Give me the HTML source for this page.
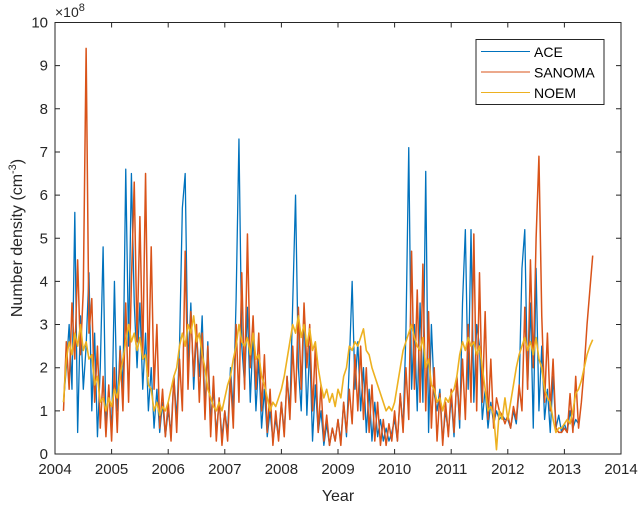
<!DOCTYPE html>
<html><head><meta charset="utf-8"><style>
html,body{margin:0;padding:0;background:#fff;}
svg{display:block;font-family:"Liberation Sans",sans-serif;}
</style></head><body>
<svg id="chart" width="640" height="505" viewBox="0 0 640 505" xmlns="http://www.w3.org/2000/svg">
<rect x="0" y="0" width="640" height="505" fill="#fff"/>
<g id="series"></g>
<rect x="55" y="22.5" width="566" height="431.5" fill="none" stroke="#262626" stroke-width="1"/>
<g id="axes" font-size="15" fill="#262626"></g>
<text x="55" y="17" font-size="14" fill="#262626">×10<tspan font-size="11" dy="-6">8</tspan></text>
<text x="338" y="501" font-size="16" fill="#262626" text-anchor="middle">Year</text>
<text transform="translate(22,238) rotate(-90)" font-size="16" fill="#262626" text-anchor="middle">Number density (cm<tspan font-size="11" dy="-6">-3</tspan><tspan dy="6">)</tspan></text>
<g>
<rect x="476" y="39.5" width="128" height="65" fill="#fff" stroke="#262626" stroke-width="1"/>
<line x1="481" y1="51.5" x2="530" y2="51.5" stroke="#0072BD"/>
<text x="534" y="57" font-size="14" fill="#000">ACE</text>
<line x1="481" y1="72" x2="530" y2="72" stroke="#D95319"/>
<text x="534" y="77.5" font-size="14" fill="#000">SANOMA</text>
<line x1="481" y1="92.5" x2="530" y2="92.5" stroke="#EDB120"/>
<text x="534" y="98" font-size="14" fill="#000">NOEM</text>
</g>
</svg>
<script>
const xTicks = [2004,2005,2006,2007,2008,2009,2010,2011,2012,2013,2014];
const yTicks = [0,1,2,3,4,5,6,7,8,9,10];
const startYear = 2004.15;
const step = 0.05;
const aceValues = [1.2,2.0,3.0,1.5,5.6,0.5,3.2,1.5,2.5,4.2,1.0,2.8,0.4,2.0,4.8,0.6,1.5,
0.5,4.0,1.0,2.5,1.5,6.6,2.5,6.5,3.5,2.0,3.5,1.5,2.8,1.0,2.0,0.6,1.5,0.5,1.2,0.4,
1.0,0.5,1.8,0.8,2.5,5.7,6.5,2.0,3.5,1.5,2.8,1.8,3.2,1.0,2.6,0.8,1.5,0.5,1.2,0.4,
1.0,0.5,2.0,1.0,3.6,7.3,2.5,1.6,3.4,1.2,2.8,1.0,2.2,0.6,1.5,0.4,1.0,0.3,0.8,0.4,
1.2,0.5,1.8,1.0,3.5,6.0,2.0,1.0,3.3,0.9,2.5,0.3,1.6,0.5,1.0,0.2,0.7,0.2,0.6,0.3,
0.8,0.3,1.2,0.4,2.1,4.0,1.5,2.6,1.0,2.0,0.5,1.5,0.3,1.2,0.4,0.8,0.3,0.6,0.3,0.5,
0.8,0.3,1.4,0.6,2.8,7.1,1.5,3.0,1.0,3.5,1.2,6.55,0.5,3.0,1.4,1.0,1.5,0.3,1.0,0.5,
1.3,0.4,1.8,0.6,3.5,5.2,1.5,5.2,1.2,3.0,2.5,0.8,1.5,0.6,1.2,0.7,1.0,0.8,0.9,0.8,
0.8,0.6,1.0,0.7,1.5,4.3,5.2,1.5,3.5,0.6,4.3,1.0,2.5,0.8,1.5,0.5,1.8,0.6,0.9,0.5,
0.7,0.5,1.0,0.6,0.8,0.7];
const sanomaValues = [1.0,2.6,1.5,3.5,2.2,4.5,2.3,3.8,9.4,2.8,3.6,1.2,2.5,0.6,1.8,0.4,1.6,
0.3,2.0,0.5,2.4,1.0,3.5,1.2,4.0,6.3,2.6,5.5,2.2,6.5,1.8,4.8,1.5,3.0,0.6,1.5,0.4,
1.2,0.3,1.8,0.5,2.2,1.0,4.7,1.5,3.3,1.8,3.0,1.2,2.8,0.8,2.5,0.4,1.8,0.3,1.3,0.2,
1.0,0.3,1.8,0.6,3.0,1.2,4.2,1.5,5.1,2.0,3.2,1.5,2.8,1.0,2.3,0.5,1.5,0.2,1.0,0.3,
1.2,0.4,1.8,0.8,2.5,1.2,3.4,1.5,3.5,2.0,3.0,1.0,2.5,0.5,1.6,0.3,0.9,0.2,0.6,0.3,
0.8,0.2,1.2,0.5,1.5,0.7,2.3,1.0,2.5,0.8,2.0,0.5,1.6,0.3,1.2,0.2,0.8,0.2,0.7,0.3,
1.0,0.3,1.4,0.5,2.0,0.8,4.7,1.5,3.8,1.2,4.4,1.0,3.3,0.6,2.0,0.3,1.4,0.2,1.2,0.4,
1.5,0.5,1.8,0.8,2.2,0.8,3.0,1.2,5.1,1.0,4.2,1.2,3.3,0.8,2.2,0.6,1.3,1.0,0.9,0.7,
0.9,0.6,1.1,0.8,1.6,1.0,3.4,1.5,4.5,2.0,5.0,6.9,3.2,1.2,2.8,1.0,2.2,0.6,0.5,0.5,
0.6,0.5,1.4,0.5,1.8,0.6,1.2,2.0,3.0,3.8,4.6];
const noemValues = [1.2,2.2,2.6,2.3,2.8,2.5,3.0,2.4,2.6,2.2,2.3,1.6,1.8,1.2,1.3,1.0,1.3,
1.1,1.5,1.3,1.8,2.2,2.6,3.0,2.6,2.8,2.4,2.7,2.2,2.3,1.6,1.5,1.0,1.2,0.9,1.1,1.0,
1.2,1.5,1.8,2.0,2.5,2.8,2.5,3.0,2.8,3.2,2.6,2.8,2.3,2.0,1.5,1.3,1.1,1.0,1.2,1.0,
1.3,1.6,1.8,2.2,2.5,3.0,2.6,2.5,2.7,2.3,2.8,2.2,2.3,1.8,1.6,1.3,1.0,1.2,1.1,1.3,
1.5,1.8,2.2,2.6,3.0,2.8,3.2,2.7,3.0,2.5,2.9,2.4,2.6,2.0,1.6,1.3,1.5,1.2,1.4,1.1,
1.5,1.3,1.8,2.0,2.5,2.4,2.6,2.5,2.7,2.9,2.4,2.3,2.0,1.8,1.6,1.4,1.2,1.0,1.1,1.0,
1.2,1.6,2.0,2.4,2.6,2.8,3.0,2.7,2.5,2.4,2.7,2.0,2.2,1.6,1.5,1.2,1.3,1.0,1.3,1.2,
1.4,1.5,1.8,2.3,2.6,2.4,2.7,2.5,2.6,2.3,2.5,2.0,1.5,1.0,1.1,0.9,0.1,1.0,0.8,1.3,
0.8,1.2,1.6,2.0,2.3,2.5,2.7,2.4,2.6,2.3,2.7,2.2,2.0,1.5,1.3,1.2,0.8,0.5,0.6,0.6,
0.7,0.8,0.7,1.0,1.4,1.5,1.7,2.0,2.3,2.5,2.65];

const X0=55, X1=621, Y0=454, Y1=22.5;
function xs(v){return X0+(v-2004)/10*(X1-X0);}
function ys(v){return Y0-(v/10)*(Y0-Y1);}
const NS='http://www.w3.org/2000/svg';
const axes=document.getElementById('axes');
xTicks.forEach(t=>{
  const x=xs(t);
  const l=document.createElementNS(NS,'path');
  
  
  l.setAttribute('d',`M${x},${Y0}V${Y0-5}M${x},${Y1}V${Y1+5}`);
  l.setAttribute('stroke','#262626');
  axes.appendChild(l);
  const tx=document.createElementNS(NS,'text');
  
  
  tx.setAttribute('x',x);tx.setAttribute('y',Y0+20);
  tx.setAttribute('text-anchor','middle');
  tx.textContent=t;
  axes.appendChild(tx);
});
yTicks.forEach(t=>{
  const y=ys(t);
  const l=document.createElementNS(NS,'path');
  
  
  l.setAttribute('d',`M${X0},${y}H${X0+5}M${X1},${y}H${X1-5}`);
  l.setAttribute('stroke','#262626');
  axes.appendChild(l);
  const tx=document.createElementNS(NS,'text');
  
  
  tx.setAttribute('x',X0-7);tx.setAttribute('y',y+5);
  tx.setAttribute('text-anchor','end');
  tx.textContent=t;
  axes.appendChild(tx);
});
const g=document.getElementById('series');
function drawSeries(vals,color,name,w){
  const d=vals.map((v,i)=>(i?'L':'M')+xs(startYear+i*step).toFixed(2)+','+ys(v).toFixed(2)).join('');
  const p=document.createElementNS(NS,'path');
  
  
  p.setAttribute('d',d);
  p.setAttribute('fill','none');
  p.setAttribute('stroke',color);
  p.setAttribute('stroke-width',w);
  p.setAttribute('stroke-linejoin','round');
  g.appendChild(p);
}
drawSeries(aceValues,'#0072BD','ace-line','1.3');
drawSeries(sanomaValues,'#D95319','sanoma-line','1.5');
drawSeries(noemValues,'#EDB120','noem-line','1.6');
</script>
</body></html>
